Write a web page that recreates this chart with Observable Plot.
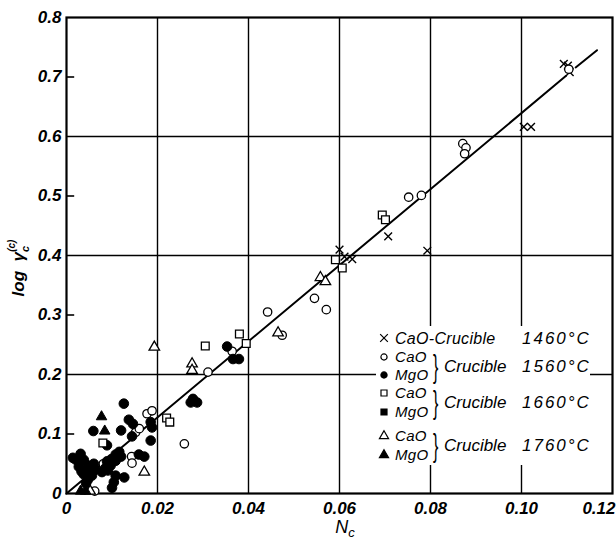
<!DOCTYPE html>
<html><head><meta charset="utf-8">
<script src="https://cdn.jsdelivr.net/npm/d3@7"></script>
<script src="https://cdn.jsdelivr.net/npm/@observablehq/plot@0.6"></script>
<style>
body{margin:0;background:#fff;}
#chart{position:relative;width:616px;height:540px;}
</style>
</head><body>
<div id="chart"></div>
<script>
// x = N_c, y = log gamma_c^(c)
const cao1460 = [[0.0600,0.410],[0.0611,0.398],[0.0628,0.394],[0.0707,0.432],[0.0793,0.408],[0.1005,0.616],[0.1021,0.616],[0.1093,0.722],[0.1102,0.719],[0.1106,0.708]];
const cao1560 = [[0.0038,0.050],[0.0081,0.050],[0.0143,0.062],[0.0144,0.051],[0.0152,0.103],[0.0160,0.109],[0.0177,0.134],[0.0188,0.139],[0.0259,0.0835],[0.0311,0.204],[0.0364,0.239],[0.0442,0.305],[0.0474,0.266],[0.0545,0.328],[0.0571,0.309],[0.0752,0.498],[0.0780,0.501],[0.0871,0.588],[0.0878,0.581],[0.0875,0.571],[0.1104,0.713],[0.0062,0.004]];
const mgo1560 = [[0.0031,0.0667],[0.0020,0.057],[0.0038,0.0566],[0.0047,0.047],[0.0027,0.045],[0.0053,0.0387],[0.0038,0.032],[0.0047,0.023],[0.0056,0.030],[0.0014,0.060],[0.0060,0.050],[0.0064,0.040],[0.0033,0.037],[0.0043,0.017],
  [0.0108,0.0655],[0.0099,0.058],[0.0089,0.054],[0.0108,0.055],[0.0097,0.047],[0.0086,0.043],[0.0091,0.0387],[0.0116,0.070],[0.0078,0.036],[0.0120,0.062],
  [0.0108,0.030],[0.0127,0.027],[0.0104,0.019],[0.0100,0.0096],[0.0159,0.0655],[0.0171,0.062],[0.0059,0.105],[0.0089,0.081],[0.0120,0.106],[0.0126,0.151],[0.0137,0.124],[0.0146,0.117],[0.0144,0.096],[0.0185,0.120],[0.0188,0.111],[0.0185,0.089],
  [0.0273,0.153],[0.0278,0.159],[0.0287,0.153],[0.0353,0.247],[0.0366,0.226],[0.0379,0.226]];
const cao1660 = [[0.0080,0.085],[0.0220,0.127],[0.0227,0.120],[0.0305,0.248],[0.0380,0.268],[0.0395,0.252],[0.0591,0.393],[0.0606,0.379],[0.0694,0.468],[0.0701,0.460]];
const mgo1660 = [];
const cao1760 = [[0.0052,0.004],[0.0171,0.036],[0.0193,0.246],[0.0276,0.218],[0.0276,0.207],[0.0465,0.270],[0.0558,0.363],[0.0569,0.356]];
const mgo1760 = [[0.0077,0.129],[0.0084,0.105],[0.0031,0.004],[0.0042,0.004]];
const fitLine1 = [[0,0],[0.1098,0.702]];
const fitLine2 = [[0.1119,0.716],[0.1166,0.745]];

const xTicks = [0,0.02,0.04,0.06,0.08,0.10];
const xLastTick = [0.12];
const yTicks = [0,0.1,0.2,0.3,0.4,0.5,0.6,0.7,0.8];
const xGrid = [0.02,0.04,0.06,0.08,0.10];
const yGrid = [0.2,0.4,0.6];
const yMinor = [0.1,0.3,0.5,0.7];

const legendRows = [
  {sym:"times", fill:"none", label:"CaO-Crucible", temp:"1460°C"},
  {sym:"circle", fill:"white", label:"CaO"},
  {sym:"circle", fill:"black", label:"MgO", temp:"1560°C"},
  {sym:"square", fill:"white", label:"CaO"},
  {sym:"square", fill:"black", label:"MgO", temp:"1660°C"},
  {sym:"triangle", fill:"white", label:"CaO"},
  {sym:"triangle", fill:"black", label:"MgO", temp:"1760°C"}
];

const FONT = "Liberation Sans, Arial, sans-serif";
const open = (data, symbol, r) => Plot.dot(data, {x:d=>d[0], y:d=>d[1], symbol, r, fill:"white", stroke:"black", strokeWidth:1.3});
const filled = (data, symbol, r) => Plot.dot(data, {x:d=>d[0], y:d=>d[1], symbol, r, fill:"black", stroke:"black", strokeWidth:1});
const fmtX = d => d===0 ? "0" : d.toFixed(2);

const plot = Plot.plot({
  width:616, height:540,
  marginLeft:66, marginRight:4, marginTop:17, marginBottom:47,
  style:{fontFamily:FONT, fontStyle:"italic", fontSize:"16px", background:"white", color:"black"},
  x:{domain:[0,0.12], label:null},
  y:{domain:[0,0.8], label:null},
  marks:[
    Plot.gridX(xGrid, {stroke:"black", strokeOpacity:1, strokeWidth:1.4}),
    Plot.gridY(yGrid, {stroke:"black", strokeOpacity:1, strokeWidth:1.4}),
    Plot.ruleY(yMinor, {x1:0, x2:0.0018, stroke:"black", strokeWidth:1.6}),
    Plot.frame({stroke:"black", strokeWidth:2.2}),
    Plot.line(fitLine1, {x:d=>d[0], y:d=>d[1], stroke:"black", strokeWidth:2}),
    Plot.line(fitLine2, {x:d=>d[0], y:d=>d[1], stroke:"black", strokeWidth:2}),
    Plot.dot(cao1460, {x:d=>d[0], y:d=>d[1], symbol:"times", r:3.6, stroke:"black", strokeWidth:1.4}),
    open(cao1560, "circle", 4.2),
    filled(mgo1560, "circle", 4.8),
    open(cao1660, "square", 4.4),
    filled(mgo1660, "square", 4.4),
    open(cao1760, "triangle", 3.9),
    filled(mgo1760, "triangle", 3.9),
    Plot.axisX({ticks:xTicks, tickSize:0, tickPadding:8, fontSize:17, fontWeight:"bold", tickFormat:fmtX}),
    Plot.axisX({ticks:xLastTick, tickSize:0, tickPadding:8, fontSize:17, fontWeight:"bold", tickFormat:fmtX, textAnchor:"end", dx:3}),
    Plot.axisY({ticks:yTicks, tickSize:0, tickPadding:5, fontSize:17, fontWeight:"bold", tickFormat:d=>d===0?"0":d.toFixed(1)})
  ]
});
document.getElementById("chart").appendChild(plot);

// axis titles and legend
const svg = d3.select(plot);
svg.append("text").attr("x",345).attr("y",533).attr("text-anchor","middle")
  .attr("font-family",FONT).attr("font-style","italic").attr("font-size",18)
  .html('N<tspan font-size="13" dy="4">c</tspan>');
svg.append("text").attr("transform","translate(24,268) rotate(-90)").attr("text-anchor","middle")
  .attr("font-family",FONT).attr("font-style","italic").attr("font-size",17).attr("font-weight","bold")
  .html('log  γ<tspan font-size="11" dy="5">c</tspan><tspan font-size="10" dx="-6" dy="-14">(c)</tspan>');

const lg = svg.append("g").attr("font-family",FONT).attr("font-style","italic").attr("font-size",15).attr("text-anchor","start");
lg.append("rect").attr("x",376).attr("y",326).attr("width",214).attr("height",139).attr("fill","white");
const rowY = [338,357,375,393,412,436,455];
const sym = {times:d3.symbolTimes, circle:d3.symbolCircle, square:d3.symbolSquare, triangle:d3.symbolTriangle};
const sizes = {times:40, circle:30, square:36, triangle:36};
legendRows.forEach((r,i)=>{
  lg.append("path").attr("d", d3.symbol(sym[r.sym], sizes[r.sym])())
    .attr("transform",`translate(384,${rowY[i]})`)
    .attr("fill", r.sym==="times"?"none":r.fill).attr("stroke","black").attr("stroke-width",1.2);
  lg.append("text").attr("x",395).attr("y",rowY[i]).attr("dy","0.35em").attr("letter-spacing",0.3)
    .attr("font-size", r.sym==="times"?16:15).text(r.label);
});
legendRows.forEach((r,i)=>{
  if(!r.temp) return;
  let cy = r.sym==="times" ? rowY[i] : (rowY[i]+rowY[i-1])/2;
  if(r.sym!=="times"){
    lg.append("text").attr("x",433).attr("y",cy).attr("dy","0.33em").attr("font-size",32).attr("font-style","normal")
      .attr("transform",`translate(433,${cy}) scale(0.5,1) translate(-433,${-cy})`).text("}");
    lg.append("text").attr("x",444).attr("y",cy).attr("dy","0.35em").attr("font-size",17).text("Crucible");
  }
  lg.append("text").attr("x",522).attr("y",cy).attr("dy","0.35em").attr("font-size",17).attr("letter-spacing",2).text(r.temp);
});
</script>
</body></html>
